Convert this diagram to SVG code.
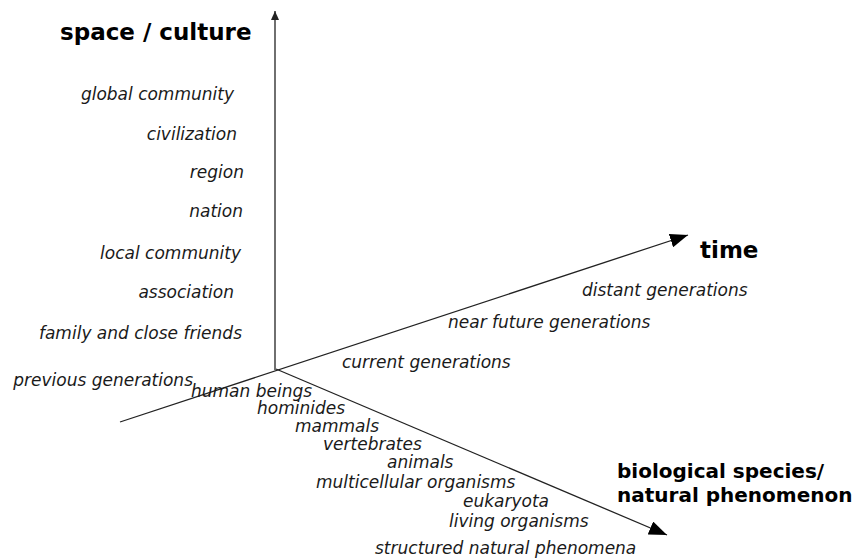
<svg xmlns="http://www.w3.org/2000/svg" width="853" height="559" viewBox="0 0 853 559">
<style>
.l{font-family:"DejaVu Sans","Liberation Sans",sans-serif;font-style:oblique;font-size:17px;fill:#1a1a1a}
.b{font-family:"DejaVu Sans","Liberation Sans",sans-serif;font-weight:bold;font-size:20px;fill:#000}
.B{font-size:23px}
.e{text-anchor:end}
.ax{stroke:#222;stroke-width:1.3;fill:none}
</style>
<defs>
<marker id="big" markerWidth="20" markerHeight="14" refX="18" refY="7" orient="auto" markerUnits="userSpaceOnUse"><path d="M0,0 L18,7 L0,14 z" fill="#000"/></marker>
<marker id="small" markerWidth="10" markerHeight="10" refX="9" refY="4" orient="auto" markerUnits="userSpaceOnUse"><path d="M0,0 L9,4 L0,8 z" fill="#222"/></marker>
</defs>
<g id="connectors">
<line class="ax" x1="275" y1="370" x2="275" y2="11" marker-end="url(#small)"/>
<line class="ax" x1="120" y1="422" x2="688" y2="235" marker-end="url(#big)"/>
<line class="ax" x1="276" y1="369" x2="667" y2="535" marker-end="url(#big)"/>
</g>
<g id="space-axis">
<text class="b B" x="60" y="40">space / culture</text>
<text class="l e" x="234" y="100">global community</text>
<text class="l e" x="237" y="140">civilization</text>
<text class="l e" x="244" y="178">region</text>
<text class="l e" x="243" y="217">nation</text>
<text class="l e" x="241" y="259">local community</text>
<text class="l e" x="234" y="298">association</text>
<text class="l e" x="242" y="339">family and close friends</text>
</g>
<g id="time-axis">
<text class="b B" x="700" y="258">time</text>
<text class="l e" x="193" y="386">previous generations</text>
<text class="l" x="342" y="368">current generations</text>
<text class="l" x="448" y="328">near future generations</text>
<text class="l" x="582" y="296">distant generations</text>
</g>
<g id="species-axis">
<text class="b" x="617" y="478">biological species/</text>
<text class="b" x="617" y="502">natural phenomenon</text>
<text class="l" x="191" y="397">human beings</text>
<text class="l" x="257" y="414">hominides</text>
<text class="l" x="295" y="432">mammals</text>
<text class="l" x="323" y="450">vertebrates</text>
<text class="l" x="387" y="468">animals</text>
<text class="l" x="316" y="488">multicellular organisms</text>
<text class="l" x="463" y="507">eukaryota</text>
<text class="l" x="449" y="527">living organisms</text>
<text class="l" x="375" y="554">structured natural phenomena</text>
</g>
</svg>
